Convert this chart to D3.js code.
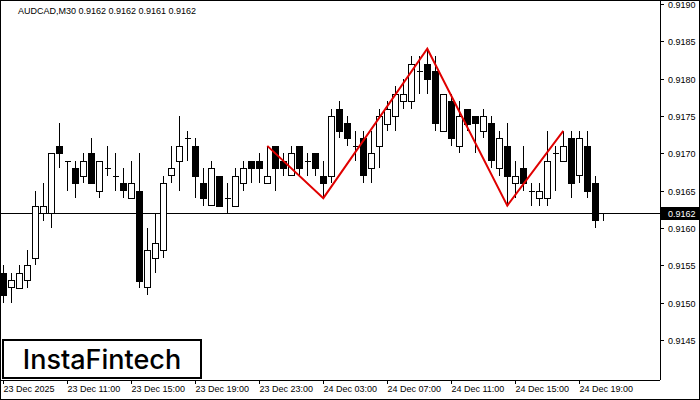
<!DOCTYPE html>
<html><head><meta charset="utf-8">
<script src="https://cdn.jsdelivr.net/npm/d3@7"></script>
<style>body{margin:0;background:#fff}svg{display:block}</style>
</head><body><svg id="c" width="700" height="400"></svg>
<script>
// OHLC in units of 0.0001 above 0.9100
const opens  = [54,52,52,53,56,62,62,71,69,68,67,70,65,68,67,66,64,65,52,56,57,67,69,72,71,66,63,67,64,63,66,69,69,66,71,69,67,71,69,70,67,67,76,74,71,72,68,71,74,75,77,77,81,82,81,73,77,71,76,75,73,74,68,71,66,68,65,64,64,70,69,72,67,71,66,62];
const highs  = [55,54,55,57,65,66,70,74,69,69,70,72,69,71,70,68,69,70,60,62,67,71,75,73,72,68,69,67,66,68,69,69,70,71,71,70,71,71,70,70,69,76,77,75,73,73,73,76,77,79,80,83,83,84,83,78,78,77,76,75,76,75,73,74,69,71,66,66,73,71,73,73,73,73,67,62];
const lows   = [50,50,52,52,55,61,60,68,65,64,66,66,64,67,65,64,64,52,51,54,56,66,65,69,64,63,63,63,62,63,65,66,66,66,65,67,67,67,67,67,64,66,72,71,69,66,66,68,73,73,76,76,78,78,73,73,71,70,73,70,72,68,67,63,64,65,63,63,63,65,69,64,66,64,60,61];
const closes = [51,53,54,55,63,63,70,70,69,66,69,66,69,68,67,65,66,53,57,58,66,68,71,72,67,64,68,63,64,67,68,68,68,67,68,68,70,68,69,68,66,75,73,72,71,67,70,75,76,78,78,82,81,80,74,78,72,75,74,74,75,69,72,67,67,66,65,65,69,70,71,66,72,65,61,62];
const patternIdx = [33,40,53,63,70];
const patternVal = [71,64,84,63,73];
const priceTicks = [0.9190,0.9185,0.9180,0.9175,0.9170,0.9165,0.9160,0.9155,0.9150,0.9145];
const timeLabels = ["23 Dec 2025","23 Dec 11:00","23 Dec 15:00","23 Dec 19:00","23 Dec 23:00","24 Dec 03:00","24 Dec 07:00","24 Dec 11:00","24 Dec 15:00","24 Dec 19:00"];
const lastPrice = 0.9162;

const P = k => 0.9100 + k*0.0001;
const svg = d3.select("#c");
const x = d3.scaleLinear().domain([0,1]).range([3.3,11.3]);
const y = d3.scaleLinear().domain([0.9145,0.9190]).range([340,4]);
const W=660,H=380;

svg.append("rect").attr("x",0.5).attr("y",0.5).attr("width",699).attr("height",399).attr("fill","#fff").attr("stroke","#000");
const g = svg.append("g").attr("shape-rendering","crispEdges");
// current price line
g.append("line").attr("x1",0).attr("x2",W).attr("y1",Math.round(y(lastPrice))+0.5).attr("y2",Math.round(y(lastPrice))+0.5).attr("stroke","#000");

opens.forEach((o,i)=>{
  const cx=Math.round(x(i))+0.5;
  const bull = closes[i]>=o;
  g.append("line").attr("x1",cx).attr("x2",cx).attr("y1",y(P(highs[i]))).attr("y2",y(P(lows[i]))).attr("stroke","#000");
  const top=y(P(Math.max(o,closes[i]))), bot=y(P(Math.min(o,closes[i])));
  if(o===closes[i]){
    g.append("line").attr("x1",cx-3).attr("x2",cx+3).attr("y1",Math.round(top)+0.5).attr("y2",Math.round(top)+0.5).attr("stroke","#000");
  } else {
    g.append("rect").attr("x",cx-3).attr("y",Math.round(top)+0.5).attr("width",6).attr("height",Math.max(1,Math.round(bot-top)))
      .attr("fill",bull?"#fff":"#000").attr("stroke","#000");
  }
});

// pattern
svg.append("path").datum(patternIdx.map((d,i)=>[x(d),y(P(patternVal[i]))]))
  .attr("d",d3.line()).attr("fill","none").attr("stroke","#e00000").attr("stroke-width",2);

// axes lines
g.append("line").attr("x1",W+0.5).attr("x2",W+0.5).attr("y1",0).attr("y2",H).attr("stroke","#000");
g.append("line").attr("x1",0).attr("x2",W).attr("y1",H+0.5).attr("y2",H+0.5).attr("stroke","#000");

priceTicks.forEach(t=>{
  const yy=Math.round(y(t))+0.5;
  g.append("line").attr("x1",W).attr("x2",W+4).attr("y1",yy).attr("y2",yy).attr("stroke","#000");
  svg.append("text").attr("x",668).attr("y",yy+3.5).attr("font-family","Arial, Liberation Sans").attr("font-size",9).text(t.toFixed(4));
});
timeLabels.forEach((t,i)=>{
  const xx=Math.round(x(i*8))+0.5;
  g.append("line").attr("x1",xx).attr("x2",xx).attr("y1",H).attr("y2",H+4).attr("stroke","#000");
  svg.append("text").attr("x",xx).attr("y",392).attr("font-family","Arial, Liberation Sans").attr("font-size",9).text(t);
});
// price box
const py=Math.round(y(lastPrice));
svg.append("rect").attr("x",W+1).attr("y",py-6).attr("width",39).attr("height",13).attr("fill","#000");
svg.append("text").attr("x",668).attr("y",py+4).attr("fill","#fff").attr("font-family","Arial, Liberation Sans").attr("font-size",9).text(lastPrice.toFixed(4));

svg.append("text").attr("x",18).attr("y",14).attr("font-family","Arial, Liberation Sans").attr("font-size",9)
  .text("AUDCAD,M30  0.9162 0.9162 0.9161 0.9162");

svg.append("rect").attr("x",3).attr("y",340).attr("width",198).attr("height",38).attr("fill","#fff").attr("stroke","#000").attr("stroke-width",2);
svg.append("text").attr("x",102).attr("y",369).attr("text-anchor","middle").attr("font-family","Inter, Arial").attr("font-size",27).attr("font-weight",500).text("InstaFintech");
</script></body></html>
